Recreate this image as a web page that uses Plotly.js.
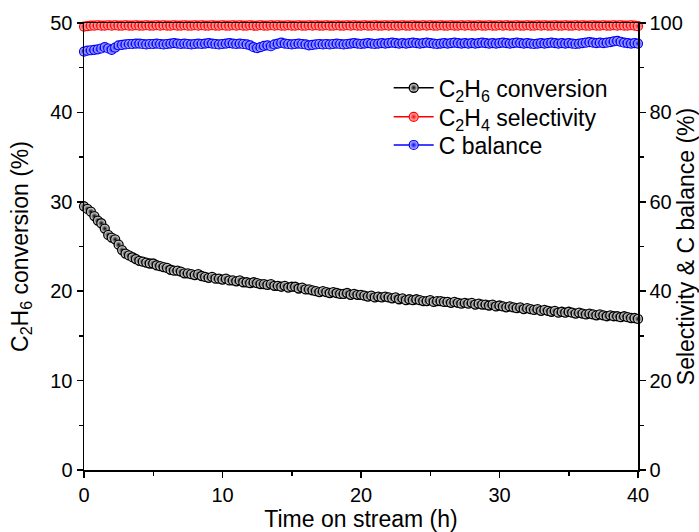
<!DOCTYPE html>
<html>
<head>
<meta charset="utf-8">
<script src="https://cdn.plot.ly/plotly-3.0.1.min.js"></script>
<style>html,body{margin:0;padding:0;background:#fff;}#chart{width:699px;height:532px;}</style>
</head>
<body>
<div id="chart"></div>
<script>
var timeH = [0,0.25,0.5,0.75,1,1.25,1.5,1.75,2,2.25,2.5,2.75,3,3.25,3.5,3.75,4,4.25,4.5,4.75,5,5.25,5.5,5.75,6,6.25,6.5,6.75,7,7.25,7.5,7.75,8,8.25,8.5,8.75,9,9.25,9.5,9.75,10,10.25,10.5,10.75,11,11.25,11.5,11.75,12,12.25,12.5,12.75,13,13.25,13.5,13.75,14,14.25,14.5,14.75,15,15.25,15.5,15.75,16,16.25,16.5,16.75,17,17.25,17.5,17.75,18,18.25,18.5,18.75,19,19.25,19.5,19.75,20,20.25,20.5,20.75,21,21.25,21.5,21.75,22,22.25,22.5,22.75,23,23.25,23.5,23.75,24,24.25,24.5,24.75,25,25.25,25.5,25.75,26,26.25,26.5,26.75,27,27.25,27.5,27.75,28,28.25,28.5,28.75,29,29.25,29.5,29.75,30,30.25,30.5,30.75,31,31.25,31.5,31.75,32,32.25,32.5,32.75,33,33.25,33.5,33.75,34,34.25,34.5,34.75,35,35.25,35.5,35.75,36,36.25,36.5,36.75,37,37.25,37.5,37.75,38,38.25,38.5,38.75,39,39.25,39.5,39.75,40];

var conversion = [29.5,29.2,28.9,28.4,27.9,27.6,27.0,26.3,26.0,25.8,25.2,24.6,24.2,24.0,23.8,23.6,23.4,23.3,23.2,23.1,23.1,22.9,22.8,22.7,22.6,22.4,22.3,22.3,22.2,22.0,22.0,21.9,21.8,21.9,21.7,21.6,21.5,21.6,21.4,21.4,21.3,21.4,21.2,21.2,21.1,21.2,21.0,21.0,20.9,21.0,20.9,20.8,20.8,20.7,20.8,20.6,20.6,20.5,20.6,20.4,20.5,20.5,20.3,20.4,20.2,20.2,20.1,20.0,19.9,20.0,19.9,19.8,19.9,19.8,19.7,19.7,19.8,19.6,19.7,19.6,19.6,19.5,19.4,19.5,19.3,19.4,19.3,19.4,19.3,19.2,19.3,19.1,19.2,19.0,19.1,19.0,19.1,19.0,18.9,18.9,19.0,18.8,18.9,18.9,18.8,18.8,18.7,18.8,18.7,18.6,18.7,18.6,18.7,18.5,18.6,18.5,18.5,18.4,18.5,18.3,18.4,18.3,18.2,18.3,18.2,18.1,18.2,18.0,18.1,18.0,17.9,18.0,17.8,17.9,17.8,17.7,17.8,17.6,17.7,17.6,17.7,17.6,17.5,17.6,17.5,17.4,17.5,17.4,17.3,17.4,17.3,17.2,17.3,17.2,17.2,17.1,17.2,17.1,17.0,17.0,16.9];

var selectivity = [99.2,99.3,99.4,99.4,99.5,99.4,99.4,99.5,99.4,99.5,99.4,99.4,99.5,99.4,99.4,99.5,99.4,99.4,99.5,99.4,99.4,99.5,99.4,99.5,99.4,99.4,99.5,99.4,99.4,99.5,99.4,99.4,99.5,99.4,99.5,99.4,99.4,99.5,99.4,99.4,99.5,99.4,99.4,99.5,99.4,99.5,99.4,99.4,99.5,99.4,99.4,99.5,99.4,99.4,99.5,99.4,99.5,99.4,99.4,99.5,99.4,99.4,99.5,99.4,99.4,99.5,99.4,99.5,99.4,99.4,99.5,99.4,99.4,99.5,99.4,99.4,99.5,99.4,99.5,99.4,99.4,99.5,99.4,99.4,99.5,99.4,99.4,99.5,99.4,99.5,99.4,99.4,99.5,99.4,99.4,99.5,99.4,99.4,99.5,99.4,99.5,99.4,99.4,99.5,99.4,99.4,99.5,99.4,99.4,99.5,99.4,99.5,99.4,99.4,99.5,99.4,99.4,99.5,99.4,99.4,99.5,99.4,99.5,99.4,99.4,99.5,99.4,99.4,99.5,99.4,99.4,99.5,99.4,99.5,99.4,99.4,99.5,99.4,99.4,99.5,99.4,99.4,99.5,99.4,99.5,99.4,99.4,99.5,99.4,99.4,99.5,99.4,99.4,99.5,99.4,99.5,99.4,99.4,99.5,99.4,99.3];

var cBalance = [93.6,93.8,93.9,94.0,94.1,94.3,94.6,94.3,94.0,94.5,95.0,95.1,95.2,95.3,95.3,95.4,95.4,95.3,95.2,95.3,95.3,95.4,95.3,95.2,95.3,95.4,95.5,95.4,95.3,95.4,95.3,95.2,95.3,95.4,95.3,95.4,95.5,95.4,95.3,95.2,95.3,95.4,95.5,95.4,95.3,95.4,95.3,95.2,95.0,94.6,94.4,94.6,94.9,95.0,94.8,95.2,95.4,95.6,95.4,95.3,95.2,95.3,95.4,95.3,95.2,95.0,95.1,95.2,95.3,95.2,95.3,95.2,95.3,95.4,95.3,95.2,95.3,95.4,95.5,95.4,95.3,95.4,95.5,95.4,95.3,95.4,95.5,95.4,95.5,95.6,95.5,95.4,95.5,95.4,95.5,95.6,95.5,95.4,95.5,95.6,95.5,95.4,95.3,95.4,95.5,95.4,95.5,95.6,95.5,95.4,95.5,95.4,95.5,95.4,95.5,95.6,95.5,95.4,95.5,95.4,95.5,95.6,95.5,95.4,95.5,95.6,95.5,95.4,95.5,95.4,95.3,95.4,95.5,95.4,95.5,95.6,95.5,95.4,95.5,95.4,95.5,95.4,95.3,95.4,95.5,95.6,95.7,95.6,95.5,95.6,95.5,95.6,95.7,95.9,96.0,95.8,95.6,95.5,95.4,95.5,95.4];

var traces = [
  {x: timeH, y: conversion, name: 'C<sub>2</sub>H<sub>6</sub> conversion', mode: 'lines+markers', legend: 'legend',
   line: {color: '#000', width: 1.5},
   marker: {symbol: 'circle', size: 9, color: '#ffffff', gradient: {type: 'radial', color: '#000'}, line: {color: '#000', width: 1.3}},
   cliponaxis: false},
  {x: timeH, y: selectivity, name: 'C<sub>2</sub>H<sub>4</sub> selectivity', mode: 'lines+markers', yaxis: 'y2', legend: 'legend2',
   line: {color: '#ff0000', width: 1.5},
   marker: {symbol: 'circle', size: 9, color: '#ffd0d0', gradient: {type: 'radial', color: '#ff0000'}, line: {color: '#ff0000', width: 1.2}},
   cliponaxis: false},
  {x: timeH, y: cBalance, name: 'C balance', mode: 'lines+markers', yaxis: 'y2', legend: 'legend3',
   line: {color: '#0000ff', width: 1.5},
   marker: {symbol: 'circle', size: 9, color: '#d0d0ff', gradient: {type: 'radial', color: '#0000ff'}, line: {color: '#0000ff', width: 1.2}},
   cliponaxis: false}
];

var family = 'Liberation Sans, Arial, sans-serif';
var tickFnt = {family: family, size: 20, color: '#000'};
var titleFnt = {family: family, size: 23, color: '#000'};
var legFnt = {family: family, size: 23, color: '#000'};

function leg(y) {
  return {x: 0.55, y: y, xanchor: 'left', yanchor: 'middle', bgcolor: 'rgba(0,0,0,0)', font: legFnt, itemwidth: 40, borderwidth: 0};
}

var layout = {
  width: 699, height: 532,
  margin: {l: 84, r: 61, t: 23, b: 62},
  paper_bgcolor: '#fff', plot_bgcolor: '#fff',
  font: titleFnt,
  showlegend: true,
  legend: leg(0.855),
  legend2: leg(0.79),
  legend3: leg(0.727),
  xaxis: {range: [0, 40], dtick: 10, ticks: 'outside', ticklen: 6, tickwidth: 1.5, tickcolor: '#000',
          showline: true, linecolor: '#000', linewidth: 1.5, mirror: true, showgrid: false, zeroline: false,
          minor: {dtick: 5, ticks: 'outside', ticklen: 4, tickwidth: 1.5, tickcolor: '#000', showgrid: false},
          tickfont: tickFnt,
          title: {text: 'Time on stream (h)', font: titleFnt}},
  yaxis: {range: [0, 50], dtick: 10, ticks: 'outside', ticklen: 6, tickwidth: 1.5, tickcolor: '#000',
          showline: true, linecolor: '#000', linewidth: 1.5, showgrid: false, zeroline: false,
          minor: {dtick: 5, ticks: 'outside', ticklen: 4, tickwidth: 1.5, tickcolor: '#000', showgrid: false},
          tickfont: tickFnt,
          title: {text: 'C<sub>2</sub>H<sub>6</sub> conversion (%)', font: titleFnt}},
  yaxis2: {range: [0, 100], dtick: 20, overlaying: 'y', side: 'right', ticks: 'outside', ticklen: 6, tickwidth: 1.5, tickcolor: '#000',
          showline: true, linecolor: '#000', linewidth: 1.5, showgrid: false, zeroline: false,
          minor: {dtick: 10, ticks: 'outside', ticklen: 4, tickwidth: 1.5, tickcolor: '#000', showgrid: false},
          tickfont: tickFnt,
          title: {text: 'Selectivity &amp; C balance (%)', font: titleFnt}}
};

Plotly.newPlot('chart', traces, layout, {displayModeBar: false, staticPlot: true});
</script>
</body>
</html>
